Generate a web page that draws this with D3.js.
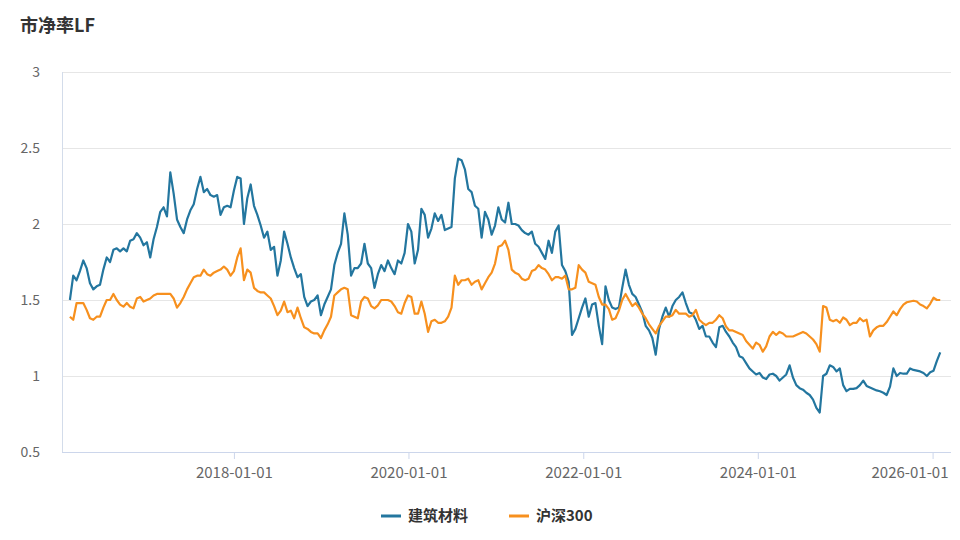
<!DOCTYPE html>
<html>
<head>
<meta charset="utf-8">
<script src="https://cdn.jsdelivr.net/npm/d3@7"></script>
<style>
  html, body { margin: 0; padding: 0; background: #fff; }
  #chart { width: 960px; height: 540px; }
  text { font-family: "Noto Sans CJK SC", "Noto Sans", sans-serif; }
</style>
</head>
<body>
<div id="chart"></div>
<script>
// sampled every 14 days starting at startDate
var startDate = "2016-02-15";
var stepDays = 14;

var seriesNames = ["建筑材料", "沪深300"];

var buildingMaterials = [
    1.50, 1.66, 1.63, 1.69, 1.76, 1.71, 1.61, 1.57, 1.59, 1.60,
    1.70, 1.78, 1.75, 1.83, 1.84, 1.82, 1.84, 1.82, 1.89, 1.90,
    1.94, 1.91, 1.86, 1.88, 1.78, 1.90, 1.98, 2.08, 2.11, 2.05,
    2.34, 2.20, 2.03, 1.98, 1.94, 2.03, 2.09, 2.13, 2.23, 2.31,
    2.21, 2.23, 2.19, 2.18, 2.19, 2.06, 2.11, 2.12, 2.11, 2.22,
    2.31, 2.30, 2.00, 2.17, 2.26, 2.12, 2.06, 1.99, 1.91, 1.95,
    1.83, 1.85, 1.66, 1.76, 1.95, 1.87, 1.78, 1.71, 1.65, 1.67,
    1.52, 1.46, 1.49, 1.50, 1.53, 1.40, 1.47, 1.52, 1.57, 1.73,
    1.81, 1.87, 2.07, 1.93, 1.66, 1.71, 1.71, 1.74, 1.87, 1.74,
    1.71, 1.58, 1.67, 1.73, 1.69, 1.76, 1.71, 1.67, 1.76, 1.74,
    1.81, 2.00, 1.95, 1.74, 1.83, 2.10, 2.06, 1.91, 1.97, 2.07,
    2.02, 2.06, 1.96, 1.97, 1.98, 2.30, 2.43, 2.42, 2.36, 2.23,
    2.21, 2.12, 2.10, 1.91, 2.08, 2.03, 1.93, 1.99, 2.11, 2.03,
    2.01, 2.14, 2.00, 2.00, 1.99, 1.96, 1.94, 1.93, 1.95, 1.87,
    1.85, 1.81, 1.77, 1.89, 1.81, 1.95, 1.99, 1.73, 1.69, 1.62,
    1.27, 1.31, 1.38, 1.45, 1.51, 1.39, 1.47, 1.48, 1.33, 1.21,
    1.59, 1.50, 1.45, 1.44, 1.45, 1.58, 1.70, 1.60, 1.54, 1.52,
    1.47, 1.42, 1.33, 1.30, 1.25, 1.14, 1.31, 1.39, 1.45, 1.39,
    1.46, 1.50, 1.52, 1.55, 1.48, 1.42, 1.41, 1.37, 1.31, 1.33,
    1.26, 1.26, 1.22, 1.19, 1.32, 1.33, 1.29, 1.26, 1.22, 1.19,
    1.13, 1.12, 1.085, 1.05, 1.03, 1.01, 1.02, 0.99, 0.98, 1.01,
    1.015, 1.00, 0.97, 0.99, 1.01, 1.07, 0.99, 0.94, 0.92, 0.91,
    0.89, 0.875, 0.845, 0.79, 0.76, 1.00, 1.015, 1.07, 1.06, 1.03,
    1.05, 0.94, 0.90, 0.915, 0.915, 0.92, 0.94, 0.97, 0.935, 0.925,
    0.915, 0.905, 0.90, 0.89, 0.875, 0.93, 1.05, 1.00, 1.02, 1.015,
    1.015, 1.05, 1.04, 1.035, 1.03, 1.02, 1.00, 1.025, 1.035, 1.10,
    1.155
];

var csi300 = [
    1.39, 1.37, 1.48, 1.48, 1.48, 1.435, 1.38, 1.37, 1.39, 1.39,
    1.45, 1.50, 1.50, 1.54, 1.50, 1.47, 1.456, 1.48, 1.456, 1.445,
    1.51, 1.52, 1.49, 1.50, 1.51, 1.53, 1.54, 1.54, 1.54, 1.54,
    1.54, 1.51, 1.45, 1.48, 1.52, 1.57, 1.61, 1.65, 1.66, 1.66,
    1.70, 1.67, 1.66, 1.68, 1.69, 1.70, 1.72, 1.70, 1.66, 1.69,
    1.78, 1.84, 1.63, 1.70, 1.68, 1.58, 1.56, 1.55, 1.55, 1.53,
    1.51, 1.46, 1.40, 1.43, 1.49, 1.42, 1.43, 1.38, 1.45, 1.38,
    1.32, 1.31, 1.29, 1.28, 1.28, 1.25, 1.30, 1.34, 1.39, 1.53,
    1.55, 1.57, 1.58, 1.57, 1.40, 1.39, 1.38, 1.49, 1.52, 1.51,
    1.46, 1.445, 1.465, 1.50, 1.50, 1.50, 1.49, 1.46, 1.42, 1.41,
    1.48, 1.53, 1.52, 1.41, 1.41, 1.49, 1.41, 1.29, 1.36, 1.37,
    1.35, 1.35, 1.36, 1.39, 1.45, 1.66, 1.60, 1.63, 1.63, 1.64,
    1.60, 1.62, 1.63, 1.57, 1.61, 1.65, 1.68, 1.74, 1.85, 1.86,
    1.89, 1.83, 1.70, 1.68, 1.67, 1.64, 1.63, 1.64, 1.69, 1.70,
    1.73, 1.71, 1.70, 1.67, 1.63, 1.65, 1.65, 1.64, 1.66, 1.57,
    1.57, 1.58, 1.73, 1.70, 1.68, 1.62, 1.61, 1.60, 1.52, 1.47,
    1.47, 1.44, 1.37, 1.38, 1.43, 1.50, 1.54, 1.50, 1.46, 1.48,
    1.45, 1.41, 1.38, 1.34, 1.31, 1.28, 1.33, 1.36, 1.39, 1.39,
    1.40, 1.435, 1.41, 1.41, 1.41, 1.39, 1.40, 1.435, 1.37, 1.35,
    1.335, 1.35, 1.35, 1.37, 1.40, 1.38, 1.325, 1.30, 1.30, 1.29,
    1.28, 1.27, 1.23, 1.205, 1.18, 1.22, 1.205, 1.16, 1.195, 1.26,
    1.29, 1.27, 1.29, 1.28, 1.26, 1.26, 1.26, 1.27, 1.28, 1.29,
    1.28, 1.26, 1.24, 1.21, 1.16, 1.46, 1.45, 1.37, 1.36, 1.37,
    1.35, 1.385, 1.37, 1.335, 1.35, 1.35, 1.38, 1.36, 1.37, 1.26,
    1.30, 1.32, 1.33, 1.33, 1.355, 1.39, 1.425, 1.40, 1.44, 1.47,
    1.485, 1.49, 1.495, 1.49, 1.47, 1.46, 1.445, 1.475, 1.515, 1.50,
    1.50
];

var xTickLabels = ["2018-01-01", "2020-01-01", "2022-01-01", "2024-01-01", "2026-01-01"];
var yTickValues = [0.5, 1, 1.5, 2, 2.5, 3];
var xDomain = ["2016-01-13", "2026-03-19"];

var chart = (function() {
    "use strict";
    var module = {};

    var width = 960,
        height = 540,
        left = 62,
        right = 951,
        top = 72,
        bottom = 452;
    var colors = ["#23769f", "#f7901e"];
    var parse = d3.timeParse("%Y-%m-%d");

    var svg = d3.select("#chart")
        .append("svg")
        .attr("width", width)
        .attr("height", height);

    var x = d3.scaleTime()
        .domain(xDomain.map(parse))
        .range([left, right]);
    var y = d3.scaleLinear()
        .domain([0.5, 3])
        .range([bottom, top]);

    function buildDates(n) {
        var start = parse(startDate);
        var dates = [];
        for (var i = 0; i < n; i++) {
            dates.push(d3.timeDay.offset(start, i * stepDays));
        }
        return dates;
    }

    function drawTitle() {
        svg.append("text")
            .attr("x", 20)
            .attr("y", 32)
            .style("font-size", "18px")
            .style("font-weight", "bold")
            .style("fill", "#333")
            .text("市净率LF");
    }

    function drawAxes() {
        // horizontal grid + y labels
        var yAxis = svg.append("g")
            .attr("class", "y-axis")
            .attr("transform", "translate(" + left + ",0)")
            .call(d3.axisLeft(y)
                .tickValues(yTickValues)
                .tickSize(-(right - left))
                .tickPadding(22)
                .tickFormat(d3.format("")));
        yAxis.select(".domain").remove();
        yAxis.selectAll(".tick line")
            .attr("stroke", "#e6e6e6");
        yAxis.selectAll(".tick text")
            .style("font-size", "14px")
            .style("fill", "#666");

        svg.append("line")
            .attr("x1", left + 0.5).attr("x2", left + 0.5)
            .attr("y1", top).attr("y2", bottom)
            .attr("stroke", "#d3dcea");

        var ticks = xTickLabels.map(parse);
        var xAxis = svg.append("g")
            .attr("class", "x-axis")
            .attr("transform", "translate(0," + bottom + ")")
            .call(d3.axisBottom(x)
                .tickValues(ticks)
                .tickSize(7)
                .tickPadding(8)
                .tickFormat(d3.timeFormat("%Y-%m-%d")));
        xAxis.select(".domain")
            .attr("d", "M" + left + ",0.5H" + right)
            .attr("stroke", "#ccd6eb");
        xAxis.selectAll(".tick line")
            .attr("stroke", "#ccd6eb");
        xAxis.selectAll(".tick text")
            .style("font-size", "15px")
            .style("fill", "#666")
            .attr("text-anchor", function(d, i) {
                return i === ticks.length - 1 ? "end" : "middle";
            })
            .attr("x", function(d, i) {
                return i === ticks.length - 1 ? (right - 3 - x(d)) : 0;
            });
    }

    function drawLines(dates) {
        var line = d3.line()
            .x(function(d, i) { return x(dates[i]); })
            .y(function(d) { return y(d); });

        [buildingMaterials, csi300].forEach(function(values, k) {
            svg.append("path")
                .datum(values)
                .attr("fill", "none")
                .attr("stroke", colors[k])
                .attr("stroke-width", 2.2)
                .attr("stroke-linejoin", "round")
                .attr("d", line);
        });
    }

    function drawLegend() {
        var starts = [381, 509];
        var legend = svg.append("g").attr("class", "legend");
        seriesNames.forEach(function(name, k) {
            legend.append("line")
                .attr("x1", starts[k]).attr("x2", starts[k] + 20)
                .attr("y1", 516).attr("y2", 516)
                .attr("stroke", colors[k])
                .attr("stroke-width", 3);
            legend.append("text")
                .attr("x", starts[k] + 27)
                .attr("y", 521)
                .style("font-size", "15px")
                .style("font-weight", "bold")
                .style("fill", "#333")
                .text(name);
        });
    }

    module.render = function() {
        var dates = buildDates(buildingMaterials.length);
        drawTitle();
        drawAxes();
        drawLines(dates);
        drawLegend();
    };

    return module;
})();

chart.render();
</script>
</body>
</html>
